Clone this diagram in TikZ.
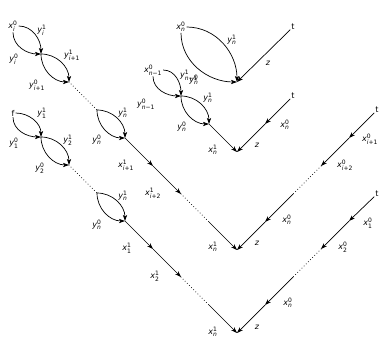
\documentclass[tikz,border=0pt]{standalone}
\usepackage{amsmath}
\usepackage{fontspec}
\setmainfont{DejaVu Sans}
\usetikzlibrary{arrows.meta}
\newcommand\lbl[3]{$\text{\itshape #1}^{\text{#2}}_{\text{#3}}$}
\begin{document}
\begin{tikzpicture}[x=1pt,y=1pt, font=\fontsize{8}{9.6}\selectfont,
  txt/.style={inner sep=1pt},
  lab/.style={inner sep=0pt},
  arr/.style={-{Stealth[length=6pt,width=4.2pt,inset=1.6pt]}, line width=0.7pt},
  dots/.style={line width=1pt, line cap=round, dash pattern=on 0pt off 3pt},
  upc/.style={out=0,in=90},
  loc/.style={out=-90,in=180}]
\useasboundingbox (0,0) rectangle (382,338);
% points
\coordinate (A1) at (41,284); \coordinate (A2) at (69,256); \coordinate (A3) at (97,228);
\coordinate (A4) at (125,200); \coordinate (A5) at (153,172); \coordinate (A6) at (181,144);
\coordinate (A7) at (209,116); \coordinate (b3) at (237,88);
\coordinate (B1) at (41,201); \coordinate (B2) at (69,173); \coordinate (B3) at (97,145);
\coordinate (B4) at (125,117); \coordinate (B5) at (153,89); \coordinate (B6) at (181,61);
\coordinate (B7) at (209,33); \coordinate (b4) at (237,5);
\coordinate (b1) at (237,256);
\coordinate (P2) at (181,242); \coordinate (Q2) at (209,214); \coordinate (b2) at (237,186);
\coordinate (c1) at (265,214);
\coordinate (a1) at (349,200); \coordinate (a2) at (321,172); \coordinate (a3) at (293,144); \coordinate (a4) at (265,116);
\coordinate (d1) at (349,117); \coordinate (d2) at (321,89); \coordinate (d3) at (293,61); \coordinate (d4) at (265,33);
% end-point text nodes
\node[txt] (xi0) at (13,312) {\lbl{x}{0}{\itshape i}};
\node[txt] (f) at (13,225) {f};
\node[txt] (xn0) at (181,311) {\lbl{x}{0}{\itshape n}};
\node[txt] (xnm1) at (153,268) {\lbl{x}{0}{\itshape n\upshape −1}};
\node[txt] (t1) at (293,311) {t};
\node[txt] (t2) at (293,242) {t};
\node[txt] (t3) at (377,228) {t};
\node[txt] (t4) at (377,144) {t};
% chain A
\draw[arr] (xi0) to[upc] (A1); \draw[arr] (xi0) to[loc] (A1);
\draw[arr] (A1) to[upc] (A2); \draw[arr] (A1) to[loc] (A2);
\draw[dots] (A2) -- (A3);
\draw[arr] (A3) to[upc] (A4); \draw[arr] (A3) to[loc] (A4);
\draw[arr] (A4) -- (A5); \draw[arr] (A5) -- (A6);
\draw[dots] (A6) -- (A7);
\draw[arr] (A7) -- (b3);
% chain B
\draw[arr] (f) to[upc] (B1); \draw[arr] (f) to[loc] (B1);
\draw[arr] (B1) to[upc] (B2); \draw[arr] (B1) to[loc] (B2);
\draw[dots] (B2) -- (B3);
\draw[arr] (B3) to[upc] (B4); \draw[arr] (B3) to[loc] (B4);
\draw[arr] (B4) -- (B5); \draw[arr] (B5) -- (B6);
\draw[dots] (B6) -- (B7);
\draw[arr] (B7) -- (b4);
% V1
\draw[arr] (xn0) to[upc] (b1); \draw[arr] (xn0) to[loc] (b1);
\draw[arr] (t1) -- (b1);
% V2
\draw[arr] (xnm1) to[upc] (P2); \draw[arr] (xnm1) to[loc] (P2);
\draw[arr] (P2) to[upc] (Q2); \draw[arr] (P2) to[loc] (Q2);
\draw[arr] (Q2) -- (b2);
\draw[arr] (t2) -- (c1); \draw[arr] (c1) -- (b2);
% V3
\draw[arr] (t3) -- (a1); \draw[arr] (a1) -- (a2);
\draw[dots] (a2) -- (a3);
\draw[arr] (a3) -- (a4); \draw[arr] (a4) -- (b3);
% V4
\draw[arr] (t4) -- (d1); \draw[arr] (d1) -- (d2);
\draw[dots] (d2) -- (d3);
\draw[arr] (d3) -- (d4); \draw[arr] (d4) -- (b4);
% labels chain A
\node[lab] (lA1) at (42,308) {\lbl{y}{1}{\itshape i}};
\node[lab] (lA2) at (14,279) {\lbl{y}{0}{\itshape i}};
\node[lab] (lA3) at (72,283) {\lbl{y}{1}{\itshape i\upshape +1}};
\node[lab] (lA4) at (37,253) {\lbl{y}{0}{\itshape i\upshape +1}};
\node[lab] (lA5) at (123,225) {\lbl{y}{1}{\itshape n}};
\node[lab] (lA6) at (97,198) {\lbl{y}{0}{\itshape n}};
\node[lab] (lA7) at (126,173) {\lbl{x}{1}{\itshape i\upshape +1}};
\node[lab] (lA8) at (153,145) {\lbl{x}{1}{\itshape i\upshape +2}};
\node[lab] (lA9) at (213,91) {\lbl{x}{1}{\itshape n}};
% labels chain B
\node[lab] (lB1) at (42,225) {\lbl{y}{1}{1}};
\node[lab] (lB2) at (14,195) {\lbl{y}{0}{1}};
\node[lab] (lB3) at (68,198) {\lbl{y}{1}{2}};
\node[lab] (lB4) at (40,170) {\lbl{y}{0}{2}};
\node[lab] (lB5) at (123,142) {\lbl{y}{1}{\itshape n}};
\node[lab] (lB6) at (97,113) {\lbl{y}{0}{\itshape n}};
\node[lab] (lB7) at (127,90) {\lbl{x}{1}{1}};
\node[lab] (lB8) at (155,62) {\lbl{x}{1}{2}};
\node[lab] (lB9) at (213,6) {\lbl{x}{1}{\itshape n}};
% labels V1
\node[lab] (l11) at (232,298) {\lbl{y}{1}{\itshape n}};
\node[lab] (l12) at (194,258) {\lbl{y}{0}{\itshape n}};
\node[lab] (l13) at (268,275) {\textit{z}};
% labels V2
\node[lab] (l21) at (189,263) {\lbl{y}{1}{\itshape n\upshape −1}};
\node[lab] (l22) at (146,234) {\lbl{y}{0}{\itshape n\upshape −1}};
\node[lab] (l23) at (208,240) {\lbl{y}{1}{\itshape n}};
\node[lab] (l24) at (182,211) {\lbl{y}{0}{\itshape n}};
\node[lab] (l25) at (213,188) {\lbl{x}{1}{\itshape n}};
\node[lab] (l26) at (285,213) {\lbl{x}{0}{\itshape n}};
\node[lab] (l27) at (257,193) {\textit{z}};
% labels V3
\node[lab] (l31) at (370,199) {\lbl{x}{0}{\itshape i\upshape +1}};
\node[lab] (l32) at (345,173) {\lbl{x}{0}{\itshape i\upshape +2}};
\node[lab] (l33) at (287,118) {\lbl{x}{0}{\itshape n}};
\node[lab] (l34) at (257,95) {\textit{z}};
% labels V4
\node[lab] (l41) at (368,115) {\lbl{x}{0}{1}};
\node[lab] (l42) at (343,91) {\lbl{x}{0}{2}};
\node[lab] (l43) at (288,35) {\lbl{x}{0}{\itshape n}};
\node[lab] (l44) at (257,11) {\textit{z}};
\end{tikzpicture}
\end{document}
